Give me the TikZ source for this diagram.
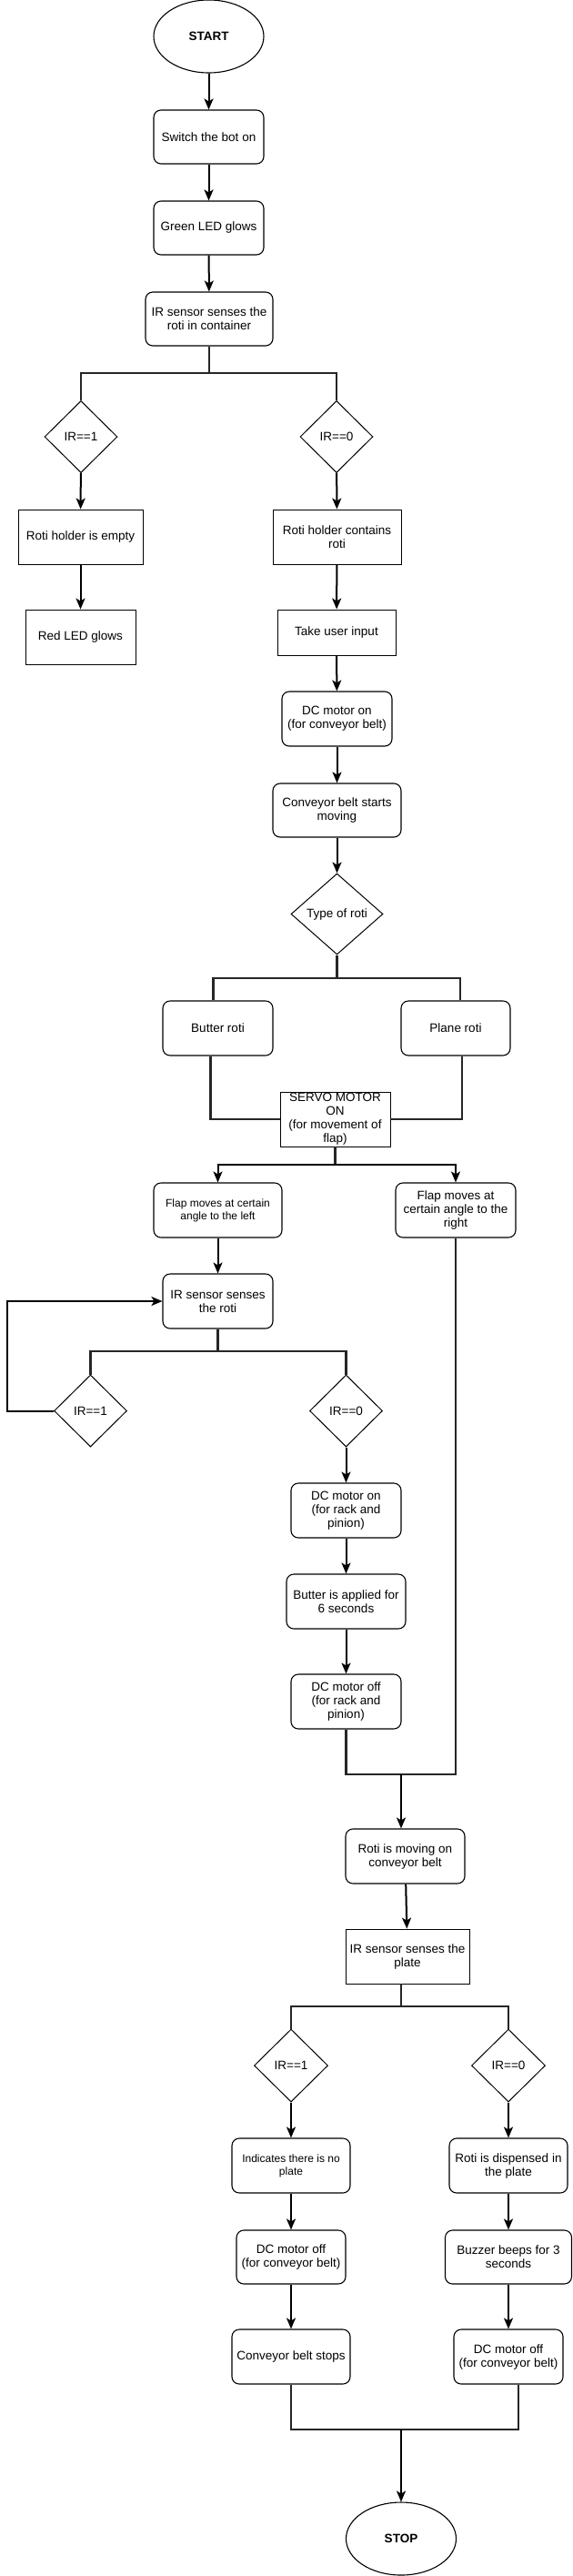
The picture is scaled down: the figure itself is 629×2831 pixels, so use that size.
\documentclass[tikz,border=0pt]{standalone}
\usepackage{fontspec}
\setmainfont{Liberation Sans}
\usepackage{tikz}
\usetikzlibrary{shapes.geometric,arrows.meta}

\begin{document}
\begin{tikzpicture}[x=1pt,y=-1pt,
	font=\fontsize{13.5}{15}\selectfont,
	rbox/.style={draw, rounded corners=8, align=center, inner sep=1, line width=1.1, minimum width=121, minimum height=60},
	box/.style={draw, align=center, inner sep=1, line width=0.9, minimum width=121, minimum height=60},
	dia/.style={draw, diamond, aspect=1, inner sep=0, line width=1, minimum width=80, minimum height=79},
	term/.style={draw, ellipse, line width=1.1, minimum width=121, minimum height=80, font=\bfseries\fontsize{13.5}{15}\selectfont},
	small/.style={font=\fontsize{12}{14}\selectfont},
	arrow/.style={line width=2, -{Stealth[length=12pt,width=10pt,inset=3pt]}},
	link/.style={line width=2.4, black!85}]

\fill[white] (0,0) rectangle (629,2831);
\useasboundingbox (0,0) rectangle (629,2831);

% top part
\node[term] (start) at (229.5,40) {START};
\node[rbox, minimum height=59] (sw) at (229.5,150.5) {Switch the bot on};
\node[rbox, minimum height=59] (green) at (229.5,250.5) {Green LED glows};
\node[rbox, minimum width=140, minimum height=59] (irc) at (230,350.5) {IR sensor senses the\\roti in container};
\coordinate (s1) at (230,410);

\node[dia] (d1) at (89,480) {IR==1};
\node[dia] (d0) at (370,480) {IR==0};
\node[box, minimum width=137] (empty) at (88.5,590) {Roti holder is empty};
\node[box, minimum width=141] (contains) at (370.5,590) {Roti holder contains\\roti};
\node[box] (red) at (88.5,700) {Red LED glows};
\node[box, minimum width=130, minimum height=50] (input) at (370,695) {Take user input};
\node[rbox] (dcon) at (370.5,790) {DC motor on\\(for conveyor belt)};
\node[rbox, minimum width=141, minimum height=59] (moving) at (370.5,890.5) {Conveyor belt starts\\moving};
\node[dia, minimum width=101, minimum height=89] (type) at (370.5,1004.5) {Type of roti};
\coordinate (s3) at (370.5,1075);

% type of roti
\node[rbox] (butter) at (239.5,1130) {Butter roti};
\node[rbox, minimum width=120] (plane) at (501,1130) {Plane roti};
\node[box] (servo) at (368.5,1230) {SERVO MOTOR\\ON\\(for movement of\\flap)};
\coordinate (s4) at (368.5,1280);

\node[rbox, small, minimum width=141] (flapl) at (239.5,1330) {Flap moves at certain\\angle to the left};
\node[rbox, minimum width=132] (flapr) at (501,1330) {Flap moves at\\certain angle to the\\right};
\node[rbox] (irr) at (239.5,1430) {IR sensor senses\\the roti};
\coordinate (s5) at (239.5,1485);
\node[dia] (e1) at (99.5,1550.5) {IR==1};
\node[dia] (e0) at (380.5,1550.5) {IR==0};
\coordinate (lp) at (8,1550.5);

\node[rbox] (rackon) at (380.5,1660) {DC motor on\\(for rack and\\pinion)};
\node[rbox, minimum width=131] (butapp) at (380.5,1760) {Butter is applied for\\6 seconds};
\node[rbox] (rackoff) at (380.5,1870) {DC motor off\\(for rack and\\pinion)};
\coordinate (m1) at (441,1950);

% plate part
\node[rbox, minimum width=131] (rmove) at (445.5,2040) {Roti is moving on\\conveyor belt};
\node[box, minimum width=136] (plate) at (448,2150) {IR sensor senses the\\plate};
\coordinate (m2) at (441,2205);
\node[dia, minimum width=81, minimum height=80] (f1) at (320,2270) {IR==1};
\node[dia, minimum width=81, minimum height=80] (f0) at (559,2270) {IR==0};
\node[rbox, small, minimum width=130] (noplate) at (320,2380) {Indicates there is no\\plate};
\node[rbox, minimum width=130] (disp) at (559,2380) {Roti is dispensed in\\the plate};
\node[rbox, minimum width=120, minimum height=59] (dcoffl) at (320,2480.5) {DC motor off\\(for conveyor belt)};
\node[rbox, minimum width=139, minimum height=59] (buzz) at (559,2480.5) {Buzzer beeps for 3\\seconds};
\node[rbox, minimum width=130] (stops) at (320,2590) {Conveyor belt stops};
\node[rbox, minimum width=120] (dcoffr) at (559,2590) {DC motor off\\(for conveyor belt)};
\coordinate (m3) at (441,2670);
\node[term] (stop) at (441,2790) {STOP};

% connectors
\draw[arrow] (start) -- (sw);
\draw[arrow] (sw) -- (green);
\draw[arrow] (green) -- (irc);
\draw[link] (irc) -- (s1);
\draw[link] (d1.north) |- (s1) -| (d0.north);
\draw[arrow] (d1) -- (empty);
\draw[arrow] (empty) -- (red);
\draw[arrow] (d0) -- (contains);
\draw[arrow] (contains) -- (input);
\draw[arrow] (input) -- (dcon);
\draw[arrow] (dcon) -- (moving);
\draw[arrow] (moving) -- (type);
\draw[link] (type) -- (s3);
\draw[link] ([xshift=-5pt]butter.north) |- (s3) -| ([xshift=5pt]plane.north);
\draw[link] ([xshift=-8pt]butter.south) |- (servo.west);
\draw[link] ([xshift=7pt]plane.south) |- (servo.east);
\draw[link] (servo) -- (s4);
\draw[arrow] (s4) -| (flapl.north);
\draw[arrow] (s4) -| (flapr.north);
\draw[arrow] (flapl) -- (irr);
\draw[link] (irr) -- (s5);
\draw[link] (e1.north) |- (s5) -| (e0.north);
\draw[arrow] (e1.west) -- (lp) |- (irr.west);
\draw[arrow] (e0) -- (rackon);
\draw[arrow] (rackon) -- (butapp);
\draw[arrow] (butapp) -- (rackoff);
\draw[link] (rackoff.south) |- (m1) -| (flapr.south);
\draw[arrow] (m1) -- (m1 |- rmove.north);
\draw[arrow] (rmove) -- (plate);
\draw[link] (m2 |- plate.south) -- (m2);
\draw[link] (f1.north) |- (m2) -| (f0.north);
\draw[arrow] (f1) -- (noplate);
\draw[arrow] (noplate) -- (dcoffl);
\draw[arrow] (dcoffl) -- (stops);
\draw[arrow] (f0) -- (disp);
\draw[arrow] (disp) -- (buzz);
\draw[arrow] (buzz) -- (dcoffr);
\draw[link] (stops.south) |- (m3) -| ([xshift=11pt]dcoffr.south);
\draw[arrow] (m3) -- (stop);

\end{tikzpicture}
\end{document}
